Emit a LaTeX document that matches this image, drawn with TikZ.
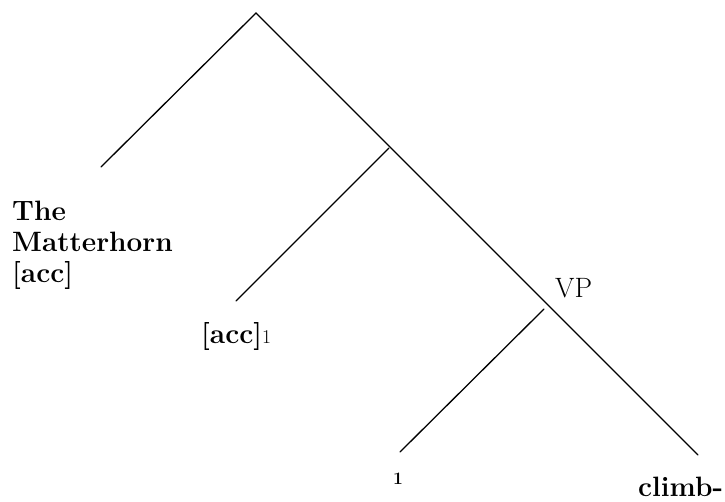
\documentclass[tikz,border=0pt]{standalone}
\begin{document}
\begin{tikzpicture}[x=1bp,y=-1bp,
  edge/.style={line width=1.3bp,line cap=round},
  lbl/.style={inner sep=0pt,anchor=base west,font=\fontsize{28bp}{31bp}\selectfont\bfseries},
  cat/.style={inner sep=0pt,anchor=base west,font=\fontsize{28bp}{31bp}\selectfont}]
\useasboundingbox (0,0) rectangle (725,502);
\coordinate (root) at (256,13);
\coordinate (n1) at (389,148);
\coordinate (vp) at (544,309);
\coordinate (l1) at (101,167);
\coordinate (l2) at (236,301);
\coordinate (l3) at (400,452);
\coordinate (l4) at (698,455);
\draw[edge] (l1) -- (root) -- (l4);
\draw[edge] (n1) -- (l2);
\draw[edge] (vp) -- (l3);
\node[lbl,align=left] (t1) at (12,283) {The\\Matterhorn\\{}[acc]};
\node[lbl] (t2) at (201,343) {[acc]{\mdseries\fontsize{19.5bp}{20bp}\selectfont 1}};
\node[cat] (t3) at (555,297) {VP};
\node[lbl,font=\fontsize{17.5bp}{20bp}\selectfont\bfseries] (t4) at (393,484) {1};
\node[lbl] (t5) at (638,496) {climb-};
\end{tikzpicture}
\end{document}
